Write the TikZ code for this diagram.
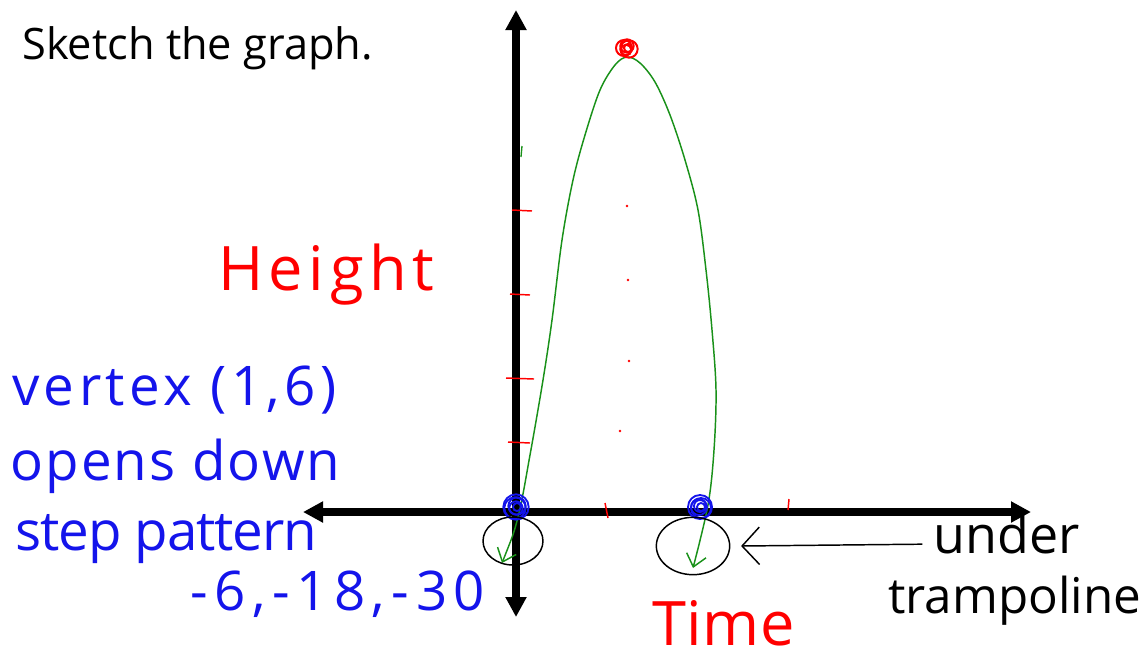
\documentclass[tikz,border=0pt]{standalone}
\usepackage{fontspec}
\setmainfont{Open Sans}
\usepackage{xcolor}
\usetikzlibrary{arrows.meta,shapes.geometric}
\definecolor{penred}{RGB}{255,0,0}
\definecolor{penblue}{RGB}{20,20,235}
\definecolor{pengreen}{RGB}{25,145,25}

\begin{document}
\begin{tikzpicture}[
  x=0.75pt, y=-0.75pt,
  axis/.style={line width=6pt, {Triangle[length=15pt,width=15pt]}-{Triangle[length=15pt,width=15pt]}},
  curve/.style={pengreen, line width=1.1pt, {Straight Barb[length=9pt,width=15pt]}-{Straight Barb[length=9pt,width=15pt]}},
  ring/.style={draw, ellipse, line width=1.1pt, inner sep=0pt},
  pointer/.style={line width=1.1pt, -{Straight Barb[length=13pt,width=28pt]}},
  tick/.style={penred, line width=1.1pt},
  hand/.style={inner sep=0pt, anchor=base west},
  redhand/.style={hand, penred, font=\fontsize{46}{56}\selectfont\addfontfeature{LetterSpace=#1}},
  bluehand/.style={hand, penblue, font=\fontsize{41}{50}\selectfont\addfontfeature{LetterSpace=#1}},
  blackhand/.style={hand, font=\fontsize{#1}{48}\selectfont}
]
\useasboundingbox (0,0) rectangle (1144,658);

\node[hand, font=\fontsize{32.5}{38}\selectfont] (title) at (22,59) {Sketch the graph.};

\coordinate (ytop) at (516,10);
\coordinate (ybot) at (516,617);
\coordinate (xleft) at (303,512);
\coordinate (xright) at (1031,512);
\draw[axis] (ybot) -- (ytop);
\draw[axis] (xleft) -- (xright);

\foreach \y/\a/\b in {210/512/532, 294/510/530, 378/506/534, 442/508/530}
  \draw[tick] (\a,\y) -- (\b,\y+1);
\draw[tick] (605,503) -- (608,518);
\draw[tick] (789,499) -- (788,510);
\draw[pengreen, line width=1pt] (522,146) -- (521,157);
\foreach \x/\y in {627/206, 628/280, 629/361, 620/431}
  \fill[penred] (\x,\y) circle (1pt);

\draw[curve] plot[smooth, tension=0.55] coordinates {
  (502,563) (518,517) (530,455) (543,380) (552,320) (562,240) (573,180)
  (585,135) (600,90) (615,65) (627,57) (640,63) (655,82) (670,115)
  (685,160) (698,210) (706,270) (712,330) (716,390) (714,450) (708,505)
  (693,568)};

\foreach \dx/\dy/\r in {-3/-2/6, 2/-1/6.5, 0/-4/5, -1/0/4, 1/-2/3}
  \draw[penred, line width=1.5pt] (627+\dx,50+\dy) circle (\r pt);
\foreach \dx/\dy/\r in {0/0/9.5, -1/1/8, 1/-1/6.5, 0/1/5, 1/0/3}
  \draw[penblue, line width=1.4pt] (516+\dx,507+\dy) circle (\r pt);
\foreach \dx/\dy/\r in {0/0/9, 1/1/7.5, -1/0/6, 0/-1/4.5, 1/0/3}
  \draw[penblue, line width=1.4pt] (700+\dx,507+\dy) circle (\r pt);

\node[ring, minimum width=45pt, minimum height=36pt] (leftring) at (513,541) {};
\node[ring, minimum width=55pt, minimum height=43pt] (rightring) at (693,546) {};

\node[redhand=9] (height) at (218,290) {Height};
\node[redhand=1] (time) at (652,645) {Time};

\node[bluehand=8] (vertex) at (12,405) {vertex (1,6)};
\node[bluehand=4] (opens) at (10,480) {opens down};
\node[bluehand=-2] (pattern) at (15,550) {step pattern};
\node[bluehand=12] (steps) at (190,610) {-6,-18,-30};

\node[blackhand=39] (under) at (933,553) {under};
\node[blackhand=37] (tramp) at (888,613) {trampoline};
\draw[pointer] ([xshift=-8pt, yshift=-8pt]under.west) -- ([xshift=8pt]rightring.east);
\end{tikzpicture}
\end{document}
